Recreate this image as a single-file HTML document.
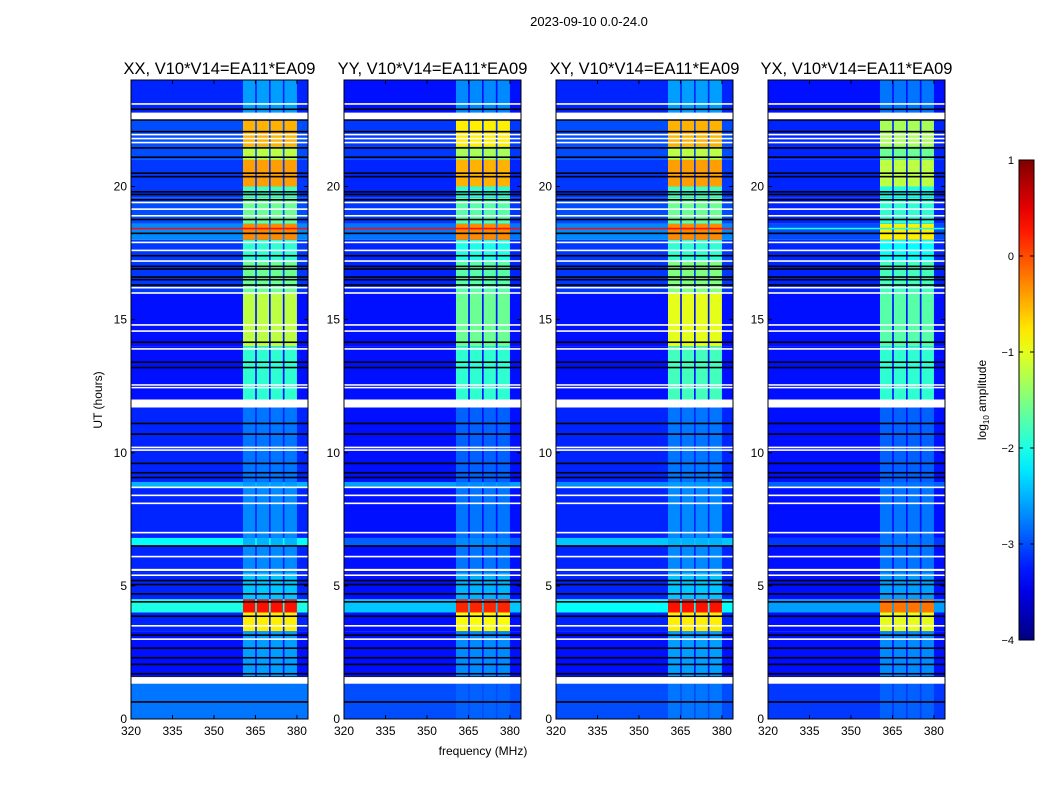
<!DOCTYPE html>
<html><head><meta charset="utf-8">
<style>
body{margin:0;background:#fff;}
svg{display:block;font-family:"Liberation Sans",sans-serif;}
</style></head>
<body>
<svg id="c" width="1050" height="800" xmlns="http://www.w3.org/2000/svg">
<text x="589" y="26" font-size="13" text-anchor="middle">2023-09-10 0.0-24.0</text>
<text x="483" y="755" font-size="12" text-anchor="middle">frequency (MHz)</text>
<text transform="translate(102,400) rotate(-90)" font-size="12" text-anchor="middle">UT (hours)</text>
<text transform="translate(986,400) rotate(-90)" font-size="12" text-anchor="middle">log<tspan font-size="8" dy="3">10</tspan><tspan dy="-3"> amplitude</tspan></text>
</svg>
<script>
// ---- data ----
const panelTitles = ["XX, V10*V14=EA11*EA09","YY, V10*V14=EA11*EA09","XY, V10*V14=EA11*EA09","YX, V10*V14=EA11*EA09"];
const segEdges = [0,1.4,1.6,3.3,4.0,4.5,5.5,6.5,6.8,8.7,8.9,11.7,12,14,16,17.2,18,18.6,19.6,20,21,21.5,22.5,24];
const bgXX   = [-2.8,null,-3.3,-3.2,-2.0,-3.2,-3.2,-2.1,-3.2,-2.5,-3.2,null,-3.3,-3.3,-3.1,-3.1,-2.7,-3.0,-3.1,-3.1,-3.0,-3.0,-3.2];
const bandXX = [-2.8,null,-2.6,-0.8,0.3,-2.4,-2.7,-2.5,-2.7,-2.6,-2.8,null,-1.9,-1.2,-1.6,-1.9,-0.3,-1.6,-1.8,-0.4,-1.2,-0.5,-2.6];
const bgYY   = [-3.0,null,-3.3,-3.3,-2.4,-3.3,-3.3,-2.9,-3.3,-2.6,-3.3,null,-3.3,-3.3,-3.2,-3.2,-2.8,-3.1,-3.2,-3.2,-3.1,-3.1,-3.3];
const bandYY = [-2.9,null,-2.7,-0.9,0.2,-2.5,-2.8,-2.7,-2.8,-2.7,-2.9,null,-1.9,-1.6,-1.7,-2.0,-0.3,-1.7,-1.9,-0.5,-1.3,-0.8,-2.7];
const bgXY   = [-3.0,null,-3.3,-3.2,-2.1,-3.2,-3.2,-2.4,-3.2,-2.7,-3.2,null,-3.3,-3.3,-3.1,-3.1,-2.7,-3.0,-3.1,-3.1,-3.0,-3.0,-3.2];
const bandXY = [-2.8,null,-2.6,-0.8,0.3,-2.4,-2.7,-2.5,-2.7,-2.6,-2.8,null,-1.8,-1.0,-1.5,-1.9,-0.3,-1.6,-1.8,-0.4,-1.2,-0.5,-2.6];
const bgYX   = [-3.1,null,-3.3,-3.3,-2.6,-3.3,-3.3,-3.1,-3.3,-2.9,-3.3,null,-3.3,-3.3,-3.2,-3.2,-3.0,-3.2,-3.2,-3.2,-3.2,-3.2,-3.3];
const bandYX = [-2.9,null,-2.7,-1.0,-0.2,-2.6,-2.8,-2.8,-2.8,-2.8,-2.9,null,-1.9,-1.7,-1.8,-2.1,-0.8,-1.9,-2.0,-1.2,-1.6,-1.3,-2.8];
const whiteLines = [1.45,3.0,3.5,5.4,5.6,6.1,7.0,8.1,8.4,8.7,10.1,10.2,11.85,12.45,12.55,13.9,14.57,14.8,16.0,16.2,17.2,17.6,17.9,18.9,19.15,19.4,21.65,21.8,21.95,22.65,23.1];
const whiteWidths = [0.25,0.06,0.06,0.06,0.08,0.06,0.06,0.06,0.06,0.06,0.06,0.06,0.25,0.05,0.05,0.06,0.06,0.06,0.06,0.06,0.06,0.06,0.06,0.06,0.06,0.06,0.06,0.06,0.06,0.25,0.06];
const blackLines = [0.64,1.57,1.7,2.05,2.3,2.66,3.15,3.86,4.4,4.7,5.05,5.2,5.4,6.5,9.07,9.25,9.6,10.7,11.1,13.2,13.4,14.15,16.3,16.5,16.6,16.9,17.0,17.4,18.24,18.76,19.5,19.7,19.8,20.37,20.5,21.1,21.45,22.06,22.5,22.9];
const redLines = [18.42];
const yTicks = [0,5,10,15,20];
const xTicks = [320,335,350,365,380];
const cbTicks = [1,0,-1,-2,-3,-4];
const bandCols = [[360.5,364.9],[365.5,369.9],[370.5,374.9],[375.5,380]];
// ---- layout ----
const panelX = [131,344,556,768], PW=177, PT=80, PB=719;
const FMIN=320, FMAX=384, TMIN=0, TMAX=24;
const svg=document.getElementById('c');
const NS="http://www.w3.org/2000/svg";
function jet(v){let t=(v+4)/5;t=Math.max(0,Math.min(1,t));
 const c=x=>Math.round(255*Math.max(0,Math.min(1,1.5-Math.abs(4*t-x))));
 return `rgb(${c(3)},${c(2)},${c(1)})`;}
function mk(tag,attrs,parent){const e=document.createElementNS(NS,tag);for(const k in attrs)e.setAttribute(k,attrs[k]);(parent||svg).appendChild(e);return e;}
const bgs=[bgXX,bgYY,bgXY,bgYX], bands=[bandXX,bandYY,bandXY,bandYX];
panelX.forEach((x0,p)=>{
 const xs=f=>x0+(f-FMIN)/(FMAX-FMIN)*PW;
 const ys=t=>PB-(t-TMIN)/(TMAX-TMIN)*(PB-PT);
 const g=mk('g',{});
 
 
 for(let i=0;i<segEdges.length-1;i++){
  const y1=ys(segEdges[i+1]), y0=ys(segEdges[i]);
  const bg=bgs[p][i], bd=bands[p][i];
  const r=mk('rect',{x:x0,y:y1,width:PW,height:y0-y1,fill:bg===null?'#fff':jet(bg)},g);
  
  
  if(bg===null)continue;
  bandCols.forEach(bc=>{
   const c=mk('rect',{x:xs(bc[0]),y:y1,width:xs(bc[1])-xs(bc[0]),height:y0-y1,fill:jet(bd)},g);
   
   
  });
 }
 blackLines.forEach(t=>{const l=mk('rect',{x:x0,y:ys(t)-0.8,width:PW,height:1.6,fill:'#000'},g);
  
  });
 redLines.forEach(t=>{const l=mk('rect',{x:x0,y:ys(t)-0.8,width:PW,height:1.6,fill:p===3?jet(-2):jet(0.3)},g);
  
  });
 whiteLines.forEach((t,i)=>{const h=whiteWidths[i]*(PB-PT)/24;const l=mk('rect',{x:x0,y:ys(t)-h/2,width:PW,height:Math.max(h,1.5),fill:'#fff'},g);
  
  });
 const fr=mk('rect',{x:x0,y:PT,width:PW,height:PB-PT,fill:'none',stroke:'#000','stroke-width':1},g);
 
 
 const tt=mk('text',{x:x0+PW/2,y:74,'font-size':16.5,'text-anchor':'middle'},g);tt.textContent=panelTitles[p];
 
 
 yTicks.forEach(t=>{const y=ys(t);
  mk('line',{x1:x0,x2:x0+4,y1:y,y2:y,stroke:'#000'},g);mk('line',{x1:x0+PW-4,x2:x0+PW,y1:y,y2:y,stroke:'#000'},g);
  const l=mk('text',{x:x0-4,y:y+4,'font-size':12,'text-anchor':'end'},g);l.textContent=t;
  
  });
 xTicks.forEach(f=>{const x=xs(f);
  mk('line',{x1:x,x2:x,y1:PB,y2:PB-4,stroke:'#000'},g);mk('line',{x1:x,x2:x,y1:PT,y2:PT+4,stroke:'#000'},g);
  const l=mk('text',{x:x,y:PB+16,'font-size':12,'text-anchor':'middle'},g);l.textContent=f;
  
  });
});
// colorbar
const CX=1019,CW=15,CT=160,CB=640;
const defs=mk('defs',{});const lg=mk('linearGradient',{id:'jg',x1:0,y1:1,x2:0,y2:0},defs);
for(let i=0;i<=20;i++){const v=-4+5*i/20;mk('stop',{offset:i/20,'stop-color':jet(v)},lg);}
const cb=mk('rect',{x:CX,y:CT,width:CW,height:CB-CT,fill:'url(#jg)',stroke:'#000'});


cbTicks.forEach(v=>{const y=CB-(v+4)/5*(CB-CT);
 mk('line',{x1:CX,x2:CX+4,y1:y,y2:y,stroke:'#000'});mk('line',{x1:CX+CW-4,x2:CX+CW,y1:y,y2:y,stroke:'#000'});
 const l=mk('text',{x:CX-5,y:y+4,'font-size':11,'text-anchor':'end'});l.textContent=v<0?'\u2212'+(-v):v;
 
 });
</script>
</body></html>
